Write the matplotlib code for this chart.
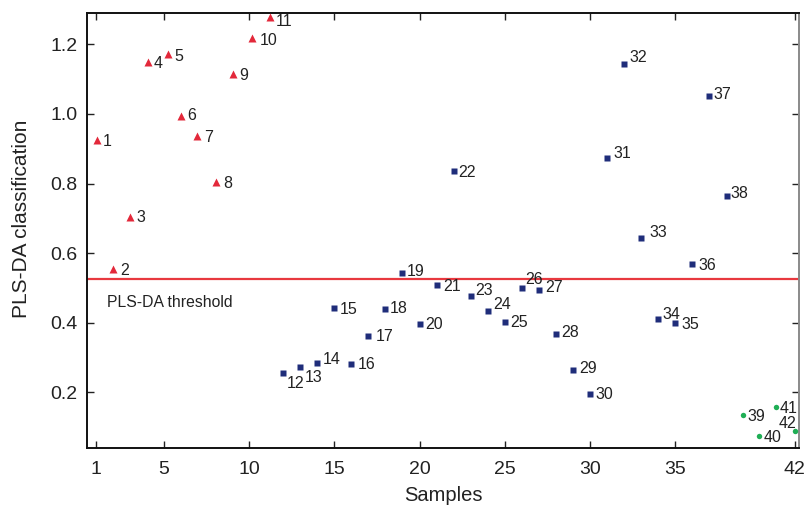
import matplotlib
matplotlib.use("Agg")
import matplotlib.pyplot as plt

plt.rcParams['font.family'] = ['Liberation Sans', 'DejaVu Sans']

# ---- data ----
red_x = [1.1, 2.05, 3.05, 4.05, 5.25, 6.0, 6.95, 8.05, 9.05, 10.2, 11.25]
red_y = [0.925, 0.553, 0.705, 1.148, 1.172, 0.995, 0.937, 0.804, 1.115, 1.219, 1.278]
red_lab = [str(i) for i in range(1, 12)]

blue_x = list(range(12, 39))
blue_y = [0.255, 0.273, 0.283, 0.443, 0.282, 0.362, 0.439, 0.544, 0.395, 0.507,
          0.836, 0.476, 0.433, 0.402, 0.501, 0.493, 0.368, 0.263, 0.196, 0.873,
          1.144, 0.643, 0.411, 0.399, 0.568, 1.052, 0.765]
blue_lab = [str(i) for i in range(12, 39)]

green_x = [38.95, 39.9, 40.9, 42.0]
green_y = [0.134, 0.074, 0.158, 0.089]
green_lab = ['39', '40', '41', '42']

threshold = 0.526
xticks = [1, 5, 10, 15, 20, 25, 30, 35, 42]
yticks = [0.2, 0.4, 0.6, 0.8, 1.0, 1.2]

# label offsets (pixels: dx to text left, dy downward of text centre)
offsets = {
    '1': (5.7, 0), '2': (7, 0), '3': (6, 0), '4': (6, 0), '5': (6, 1),
    '6': (6, -1.5), '7': (7, 0), '8': (7, 0), '9': (6, 0), '10': (7, 1),
    '11': (5, 2.7), '12': (4, 9), '13': (5, 9), '14': (6, -5), '15': (5, 0),
    '16': (6, -1), '17': (7, -1), '18': (4, -2), '19': (4.4, -2), '20': (6, -1),
    '21': (6.4, 0), '22': (5, 0), '23': (5, -7), '24': (5.4, -8), '25': (5.3, -1),
    '26': (3.6, -9), '27': (6, -4), '28': (5, -3), '29': (6.3, -3), '30': (5.7, -1),
    '31': (6, -6), '32': (5.3, -8), '33': (8, -7), '34': (4.3, -5.5), '35': (6, 0),
    '36': (5.7, 0), '37': (3.7, -2.7), '38': (4, -3), '39': (5, 0), '40': (4.7, 0),
    '41': (4, 0), '42': (-16, -8.5),
}

fig = plt.figure(figsize=(8.06, 5.12), dpi=100)
ax = fig.add_axes([87/806, 1-448/512, (799-87)/806, (448-13)/512])

ax.axhline(threshold, color='#e8383f', lw=1.6, zorder=1)

ax.plot(red_x, red_y, ls='none', marker='^', ms=6.4, color='#e3283a', mec='none', zorder=3)
ax.plot(blue_x, blue_y, ls='none', marker='s', ms=4.4, color='#1f2d7a', mec='none', zorder=3)
ax.plot(green_x, green_y, ls='none', marker='o', ms=3.9, color='#1fae55', mec='none', zorder=3)

for xs, ys, labs in [(red_x, red_y, red_lab), (blue_x, blue_y, blue_lab), (green_x, green_y, green_lab)]:
    for x, y, lab in zip(xs, ys, labs):
        dx, dy = offsets.get(lab, (5, 0))
        ax.annotate(lab, (x, y), xytext=(dx, -dy - 5.8), textcoords='offset pixels',
                    ha='left', va='baseline', fontsize=11.5, color='#222222', zorder=4)

ax.text(1.67, 0.458, 'PLS-DA threshold', fontsize=11.3, color='#222222', va='center', ha='left')

ax.set_xlim(0.5, 42.25)
ax.set_ylim(0.04, 1.29)
ax.set_xticks(xticks)
ax.set_xticklabels([str(t) for t in xticks])
ax.set_yticks(yticks)
ax.set_yticklabels([f'{t:.1f}' for t in yticks])
ax.tick_params(direction='in', length=5, width=1.0, top=True, right=True,
               labelsize=14, colors='#222222', pad=7)
ax.tick_params(axis='x', pad=9)

for s in ['left', 'bottom', 'top']:
    ax.spines[s].set_linewidth(1.4)
    ax.spines[s].set_color('#111111')
ax.spines['right'].set_linewidth(1.4)
ax.spines['right'].set_color('#8a8a8a')

ax.set_xlabel('Samples', fontsize=14.5, color='#222222', labelpad=6)
ax.set_ylabel('PLS-DA classification', fontsize=15, color='#222222')
ax.yaxis.set_label_coords(-0.079, 0.526)

fig.savefig('out.png', dpi=100)
